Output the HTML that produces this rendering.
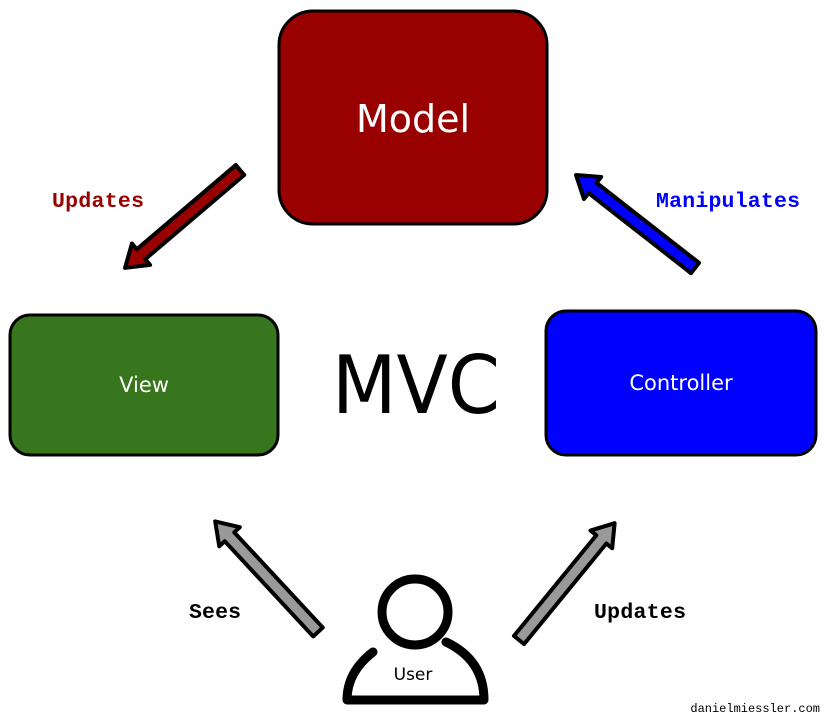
<!DOCTYPE html>
<html><head><style>body{margin:0;background:#fff}svg{display:block}</style></head><body>
<svg width="830" height="727" viewBox="0 0 830 727" xmlns="http://www.w3.org/2000/svg">
<defs>
<g id="arr"><polygon points="0,-6.5 130,-6.5 130,-14 151,0 130,14 130,6.5 0,6.5" stroke="#000" stroke-width="4" stroke-linejoin="round"/></g>
</defs>
<rect x="279" y="11" width="268" height="213" rx="34" fill="#990000" stroke="#000" stroke-width="3"/>
<text x="413" y="132" font-family="DejaVu Sans, sans-serif" font-size="38" fill="#fff" text-anchor="middle">Model</text>
<rect x="10" y="315" width="268" height="140" rx="20" fill="#38761d" stroke="#000" stroke-width="3"/>
<text x="144" y="392" font-family="DejaVu Sans, sans-serif" font-size="21" fill="#fff" text-anchor="middle">View</text>
<rect x="546" y="311" width="270" height="144" rx="20" fill="#0000ff" stroke="#000" stroke-width="3"/>
<text x="681" y="390" font-family="DejaVu Sans, sans-serif" font-size="21" fill="#fff" text-anchor="middle">Controller</text>
<text x="416" y="413" font-family="DejaVu Sans, sans-serif" font-size="80" fill="#000" text-anchor="middle" textLength="168" lengthAdjust="spacingAndGlyphs">MVC</text>
<g transform="translate(240,170) rotate(139.6)" fill="#990000"><use href="#arr"/></g>
<g transform="translate(695,268) rotate(-142)" fill="#0000ff"><use href="#arr"/></g>
<g transform="translate(318,632) rotate(-132.9)" fill="#999"><use href="#arr"/></g>
<g transform="translate(519,640) rotate(-50.7)" fill="#999"><use href="#arr"/></g>
<g font-family="Liberation Mono, monospace" font-weight="bold" font-size="21.5">
<text x="52" y="207" fill="#990000" textLength="92">Updates</text>
<text x="656" y="207" fill="#0000ff" textLength="144">Manipulates</text>
<text x="189" y="618" fill="#000" textLength="52">Sees</text>
<text x="594" y="618" fill="#000" textLength="92">Updates</text>
</g>
<circle cx="415" cy="612" r="33" fill="none" stroke="#000" stroke-width="9"/>
<path d="M373,652 Q347,672 347,700 L484,700 Q484,660 446,642" fill="none" stroke="#000" stroke-width="9" stroke-linecap="round" stroke-linejoin="round"/>
<text x="413" y="680" font-family="DejaVu Sans, sans-serif" font-size="17" fill="#000" text-anchor="middle">User</text>
<text x="820" y="712" font-family="Liberation Mono, monospace" font-size="12" fill="#000" text-anchor="end">danielmiessler.com</text>
</svg>
</body></html>
